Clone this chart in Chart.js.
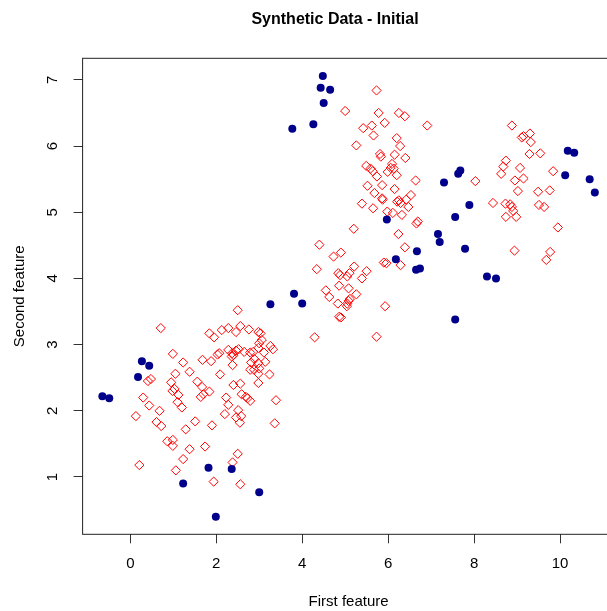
<!DOCTYPE html>
<html>
<head>
<meta charset="utf-8">
<script src="https://cdn.jsdelivr.net/npm/chart.js@4.4.1/dist/chart.umd.min.js"></script>
<style>
  html, body { margin: 0; padding: 0; overflow: hidden; background: #fff; }
</style>
</head>
<body>
<canvas id="chart" width="720" height="630"></canvas>
<script>
// filled dark blue dots
const blueX = [-0.65, -0.49, 0.27, 0.44, 0.18, 1.23, 1.82, 2.36, 3.00, 1.99,
  3.26, 3.81, 4.00, 5.97, 6.18, 6.67, 6.65, 6.74, 4.48, 4.43,
  4.65, 4.50, 4.26, 3.77, 10.18, 10.33, 10.12, 10.69, 10.81, 7.68,
  7.63, 7.30, 7.89, 7.56, 7.16, 7.20, 7.79, 8.30, 8.51, 7.56];
const blueY = [2.22, 2.19, 2.75, 2.68, 2.51, 0.90, 1.14, 1.12, 0.77, 0.40,
  3.61, 3.77, 3.62, 4.89, 4.29, 4.41, 4.13, 4.15, 7.06, 6.88,
  6.85, 6.65, 6.33, 6.26, 5.93, 5.90, 5.56, 5.50, 5.30, 5.63,
  5.58, 5.45, 5.11, 4.93, 4.67, 4.55, 4.45, 4.03, 4.00, 3.38];

// open red diamonds
const redX = [
  // lower left group
  0.71, 0.99, 1.23, 1.68, 1.05, 1.38, 0.48, 0.41, 0.95, 1.56, 1.67, 1.03, 0.98, 1.12, 1.64, 1.70, 0.30,
  0.44, 1.10, 1.20, 0.68, 0.13, 0.61, 0.72, 1.51, 1.29, 0.86, 0.99, 0.99, 1.38, 1.74, 1.23, 0.21, 1.06,
  2.50, 1.84, 1.95, 2.13, 2.28, 2.46, 2.56, 2.76, 2.98, 3.03, 3.06, 1.88, 2.03, 2.07, 2.28, 2.37, 2.46,
  2.52, 2.36, 2.40, 2.65, 2.79, 2.86, 2.98, 3.00, 3.26, 3.32, 3.11, 2.38, 2.81, 2.89, 2.98, 3.00, 3.14,
  2.79, 2.88, 2.98, 3.24, 2.09, 2.98, 2.40, 2.56, 1.84, 2.59, 2.69, 2.79, 2.73, 2.23, 2.28, 3.39, 2.51,
  2.58, 2.46, 2.55, 2.20, 1.90, 3.36, 2.50, 2.38, 1.94, 2.56,
  // middle group
  5.39, 5.65, 5.87, 5.98, 6.11, 6.32, 6.21, 6.47, 6.69, 6.66, 5.20, 6.24, 4.40, 6.39, 4.73, 4.90, 5.90,
  5.96, 6.29, 4.34, 5.21, 5.50, 4.84, 4.88, 5.05, 5.10, 5.39, 4.86, 5.08, 4.55, 4.63, 5.26, 4.83, 5.05,
  5.08, 5.11, 5.04, 5.93, 4.86, 4.90, 4.29, 5.73,
  5.73, 5.00, 5.78, 5.92, 6.25, 6.39, 6.91, 5.42, 5.62, 5.66, 6.20, 5.26, 6.28, 5.81, 5.83, 6.15, 6.40,
  5.49, 5.59, 5.64, 5.74, 6.09, 6.06, 5.99, 6.13, 6.20, 5.52, 5.86, 6.64, 6.15, 5.68, 5.86, 6.25, 6.29,
  6.42, 6.53,
  // right group
  8.88, 9.11, 9.15, 9.30, 9.32, 9.29, 9.54, 8.74, 8.68, 8.63, 9.07, 9.84, 8.03, 8.95, 9.15, 9.02, 9.49,
  9.76, 8.44, 8.73, 8.84, 8.88, 8.91, 9.51, 9.63, 8.74, 8.98, 9.95, 8.94, 9.77, 9.68
];
const redY = [
  3.25, 2.86, 2.73, 2.77, 2.56, 2.59, 2.48, 2.45, 2.43, 2.44, 2.36, 2.33, 2.30, 2.24, 2.21, 2.25, 2.20,
  2.08, 2.13, 2.05, 2.00, 1.92, 1.83, 1.77, 1.84, 1.72, 1.54, 1.56, 1.47, 1.42, 1.46, 1.27, 1.18, 1.10,
  3.52, 3.17, 3.11, 3.22, 3.25, 3.19, 3.28, 3.23, 3.19, 3.17, 3.07, 2.75, 2.85, 2.87, 2.92, 2.87, 2.91,
  2.93, 2.82, 2.84, 2.89, 2.88, 2.89, 2.95, 3.02, 2.98, 2.93, 2.88, 2.69, 2.73, 2.78, 2.72, 2.64, 2.74,
  2.62, 2.62, 2.56, 2.55, 2.55, 2.42, 2.39, 2.41, 2.29, 2.25, 2.21, 2.15, 2.19, 2.20, 2.09, 2.16, 2.01,
  1.92, 1.90, 1.82, 1.95, 1.78, 1.81, 1.35, 1.22, 0.93, 0.89,
  5.13, 5.06, 5.19, 5.01, 4.99, 4.96, 5.16, 5.08, 4.86, 4.83, 4.75, 4.67, 4.51, 4.47, 4.33, 4.39, 4.24,
  4.23, 4.20, 4.14, 4.18, 4.11, 4.08, 4.05, 4.03, 4.08, 4.00, 3.89, 3.85, 3.82, 3.72, 3.76, 3.62, 3.62,
  3.66, 3.69, 3.58, 3.58, 3.42, 3.41, 3.11, 3.12,
  6.84, 6.53, 6.50, 6.35, 6.50, 6.45, 6.31, 6.27, 6.31, 6.16, 6.12, 6.01, 6.00, 5.88, 5.84, 5.87, 5.82,
  5.70, 5.66, 5.62, 5.54, 5.73, 5.67, 5.61, 5.66, 5.56, 5.40, 5.41, 5.48, 5.35, 5.29, 5.21, 5.18, 5.14,
  5.19, 5.26,
  6.31, 6.13, 6.15, 6.19, 6.06, 5.88, 5.89, 5.78, 5.69, 5.58, 5.67, 5.62, 5.47, 5.48, 5.51, 5.32, 5.31,
  5.33, 5.14, 5.13, 5.12, 5.08, 5.02, 5.11, 5.08, 4.93, 4.93, 4.77, 4.42, 4.40, 4.28
];

const xTicks = [0, 2, 4, 6, 8, 10];
const yTicks = [1, 2, 3, 4, 5, 6, 7];

const toPoints = (xs, ys) => xs.map((x, i) => ({ x: x, y: ys[i] }));
const fam = "'Liberation Sans', Arial, sans-serif";

// R style box round the plot region
const boxPlugin = {
  id: 'box',
  afterDraw(chart) {
    const a = chart.chartArea;
    const ctx = chart.ctx;
    ctx.save();
    ctx.strokeStyle = '#222';
    ctx.lineWidth = 1;
    ctx.strokeRect(a.left, a.top, a.right - a.left, a.bottom - a.top);
    ctx.restore();
  }
};

const axisFont = { family: fam, size: 15 };

new Chart(document.getElementById('chart').getContext('2d'), {
  type: 'scatter',
  data: {
    datasets: [{
      label: 'Group A',
      data: toPoints(blueX, blueY),
      pointStyle: 'circle',
      pointRadius: 4,
      backgroundColor: '#00008B',
      borderColor: '#00008B',
      borderWidth: 0
    }, {
      label: 'Group B',
      data: toPoints(redX, redY),
      pointStyle: 'rectRot',
      pointRadius: 4.6,
      backgroundColor: 'rgba(0,0,0,0)',
      borderColor: '#FF0000',
      borderWidth: 1
    }]
  },
  options: {
    responsive: false,
    animation: false,
    layout: { autoPadding: false, padding: { left: 0, right: 50, top: 0, bottom: 0 } },
    plugins: {
      legend: { display: false },
      tooltip: { enabled: false },
      title: {
        display: true,
        text: 'Synthetic Data - Initial',
        color: '#000',
        font: { family: fam, size: 16, weight: 'bold' },
        padding: { top: 9.5, bottom: 29.6 }
      }
    },
    scales: {
      x: {
        type: 'linear',
        min: -1.11,
        max: 11.27,
        afterBuildTicks: s => { s.ticks = xTicks.map(v => ({ value: v })); },
        afterFit: s => { s.height = 630 - 534.3; },
        grid: { display: true, drawOnChartArea: false, drawTicks: true, tickLength: 9, tickColor: '#333' },
        border: { display: false },
        ticks: { color: '#000', font: axisFont, padding: 12, maxRotation: 0 },
        title: { display: true, text: 'First feature', color: '#000', font: axisFont, padding: { top: 0, bottom: 19 } }
      },
      y: {
        type: 'linear',
        min: 0.134,
        max: 7.326,
        afterBuildTicks: s => { s.ticks = yTicks.map(v => ({ value: v })); },
        afterFit: s => { s.width = 82.6; },
        grid: { display: true, drawOnChartArea: false, drawTicks: true, tickLength: 9, tickColor: '#333' },
        border: { display: false },
        ticks: { color: '#000', font: axisFont, padding: 17, minRotation: 90, maxRotation: 90, crossAlign: 'center' },
        title: { display: true, text: 'Second feature', color: '#000', font: axisFont, padding: { top: 11, bottom: 0 } }
      },
      // empty right margin, sized so the title sits where it does in the picture
      y2: {
        type: 'linear',
        position: 'right',
        display: true,
        afterFit: s => { s.width = 55.4; },
        grid: { display: false },
        border: { display: false },
        ticks: { display: false }
      }
    }
  },
  plugins: [boxPlugin]
});
</script>
</body>
</html>
